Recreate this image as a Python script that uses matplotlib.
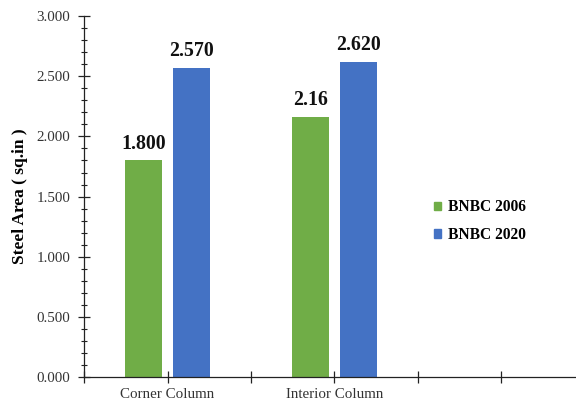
import matplotlib
matplotlib.use("Agg")
import matplotlib.pyplot as plt
from matplotlib.ticker import MultipleLocator, FixedLocator, NullFormatter, FuncFormatter
from matplotlib.patches import Patch

categories = ["Corner Column", "Interior Column"]
series_names = ["BNBC 2006", "BNBC 2020"]
bnbc_2006 = [1.800, 2.16]
bnbc_2020 = [2.570, 2.620]
labels_2006 = ["1.800", "2.16"]
labels_2020 = ["2.570", "2.620"]
colors = ["#70AD47", "#4472C4"]

plt.rcParams['font.family'] = ['Liberation Serif', 'DejaVu Serif']

fig = plt.figure(figsize=(5.76, 4.03), dpi=100)
ax = fig.add_axes([0.146, 0.0645, 0.852, 0.8955])

x = list(range(len(categories)))
w = 0.225
off = 0.143
b1 = ax.bar([i - off for i in x], bnbc_2006, width=w, color=colors[0], zorder=2)
b2 = ax.bar([i + off for i in x], bnbc_2020, width=w, color=colors[1], zorder=2)

for bars, labs in ((b1, labels_2006), (b2, labels_2020)):
    for rect, lab in zip(bars, labs):
        ax.annotate(lab, (rect.get_x() + rect.get_width() / 2, rect.get_height()),
                    xytext=(0, 5), textcoords="offset points", ha="center", va="bottom",
                    fontsize=14.3, fontweight="bold", color="#111111")

ax.set_ylim(0, 3.0)
ax.set_xlim(-0.5, 2.44)
ax.yaxis.set_major_locator(MultipleLocator(0.5))
ax.yaxis.set_minor_locator(MultipleLocator(0.1))
ax.yaxis.set_major_formatter(FuncFormatter(lambda v, p: f"{v:.3f}"))

ax.set_xticks(x)
ax.set_xticklabels(categories)
ax.xaxis.set_minor_locator(FixedLocator([-0.5, 0.5, 1.5, 2.0]))
ax.xaxis.set_minor_formatter(NullFormatter())

ax.tick_params(axis="y", which="major", direction="inout", length=8, width=0.9,
               labelsize=10.8, pad=6, colors="#222222", labelcolor="#333333")
ax.tick_params(axis="y", which="minor", direction="inout", length=5, width=0.8, colors="#222222")
ax.tick_params(axis="x", which="both", direction="inout", length=8, width=0.9,
               labelsize=10.8, pad=4, colors="#222222", labelcolor="#333333")

for s in ("top", "right"):
    ax.spines[s].set_visible(False)
for s in ("left", "bottom"):
    ax.spines[s].set_color("#222222")
    ax.spines[s].set_linewidth(0.9)

ax.set_ylabel("Steel Area ( sq.in )", fontsize=12.5, fontweight="bold", labelpad=6)

handles = [Patch(color=c) for c in colors]
leg = ax.legend(handles, series_names, loc="center left",
                frameon=False, prop={"weight": "bold", "size": 11.2},
                handlelength=0.45, handleheight=0.45, handletextpad=0.4, labelspacing=0.75)
leg.set_bbox_to_anchor((0.73, 0.451), transform=fig.transFigure)

fig.savefig("out.png", dpi=100)
